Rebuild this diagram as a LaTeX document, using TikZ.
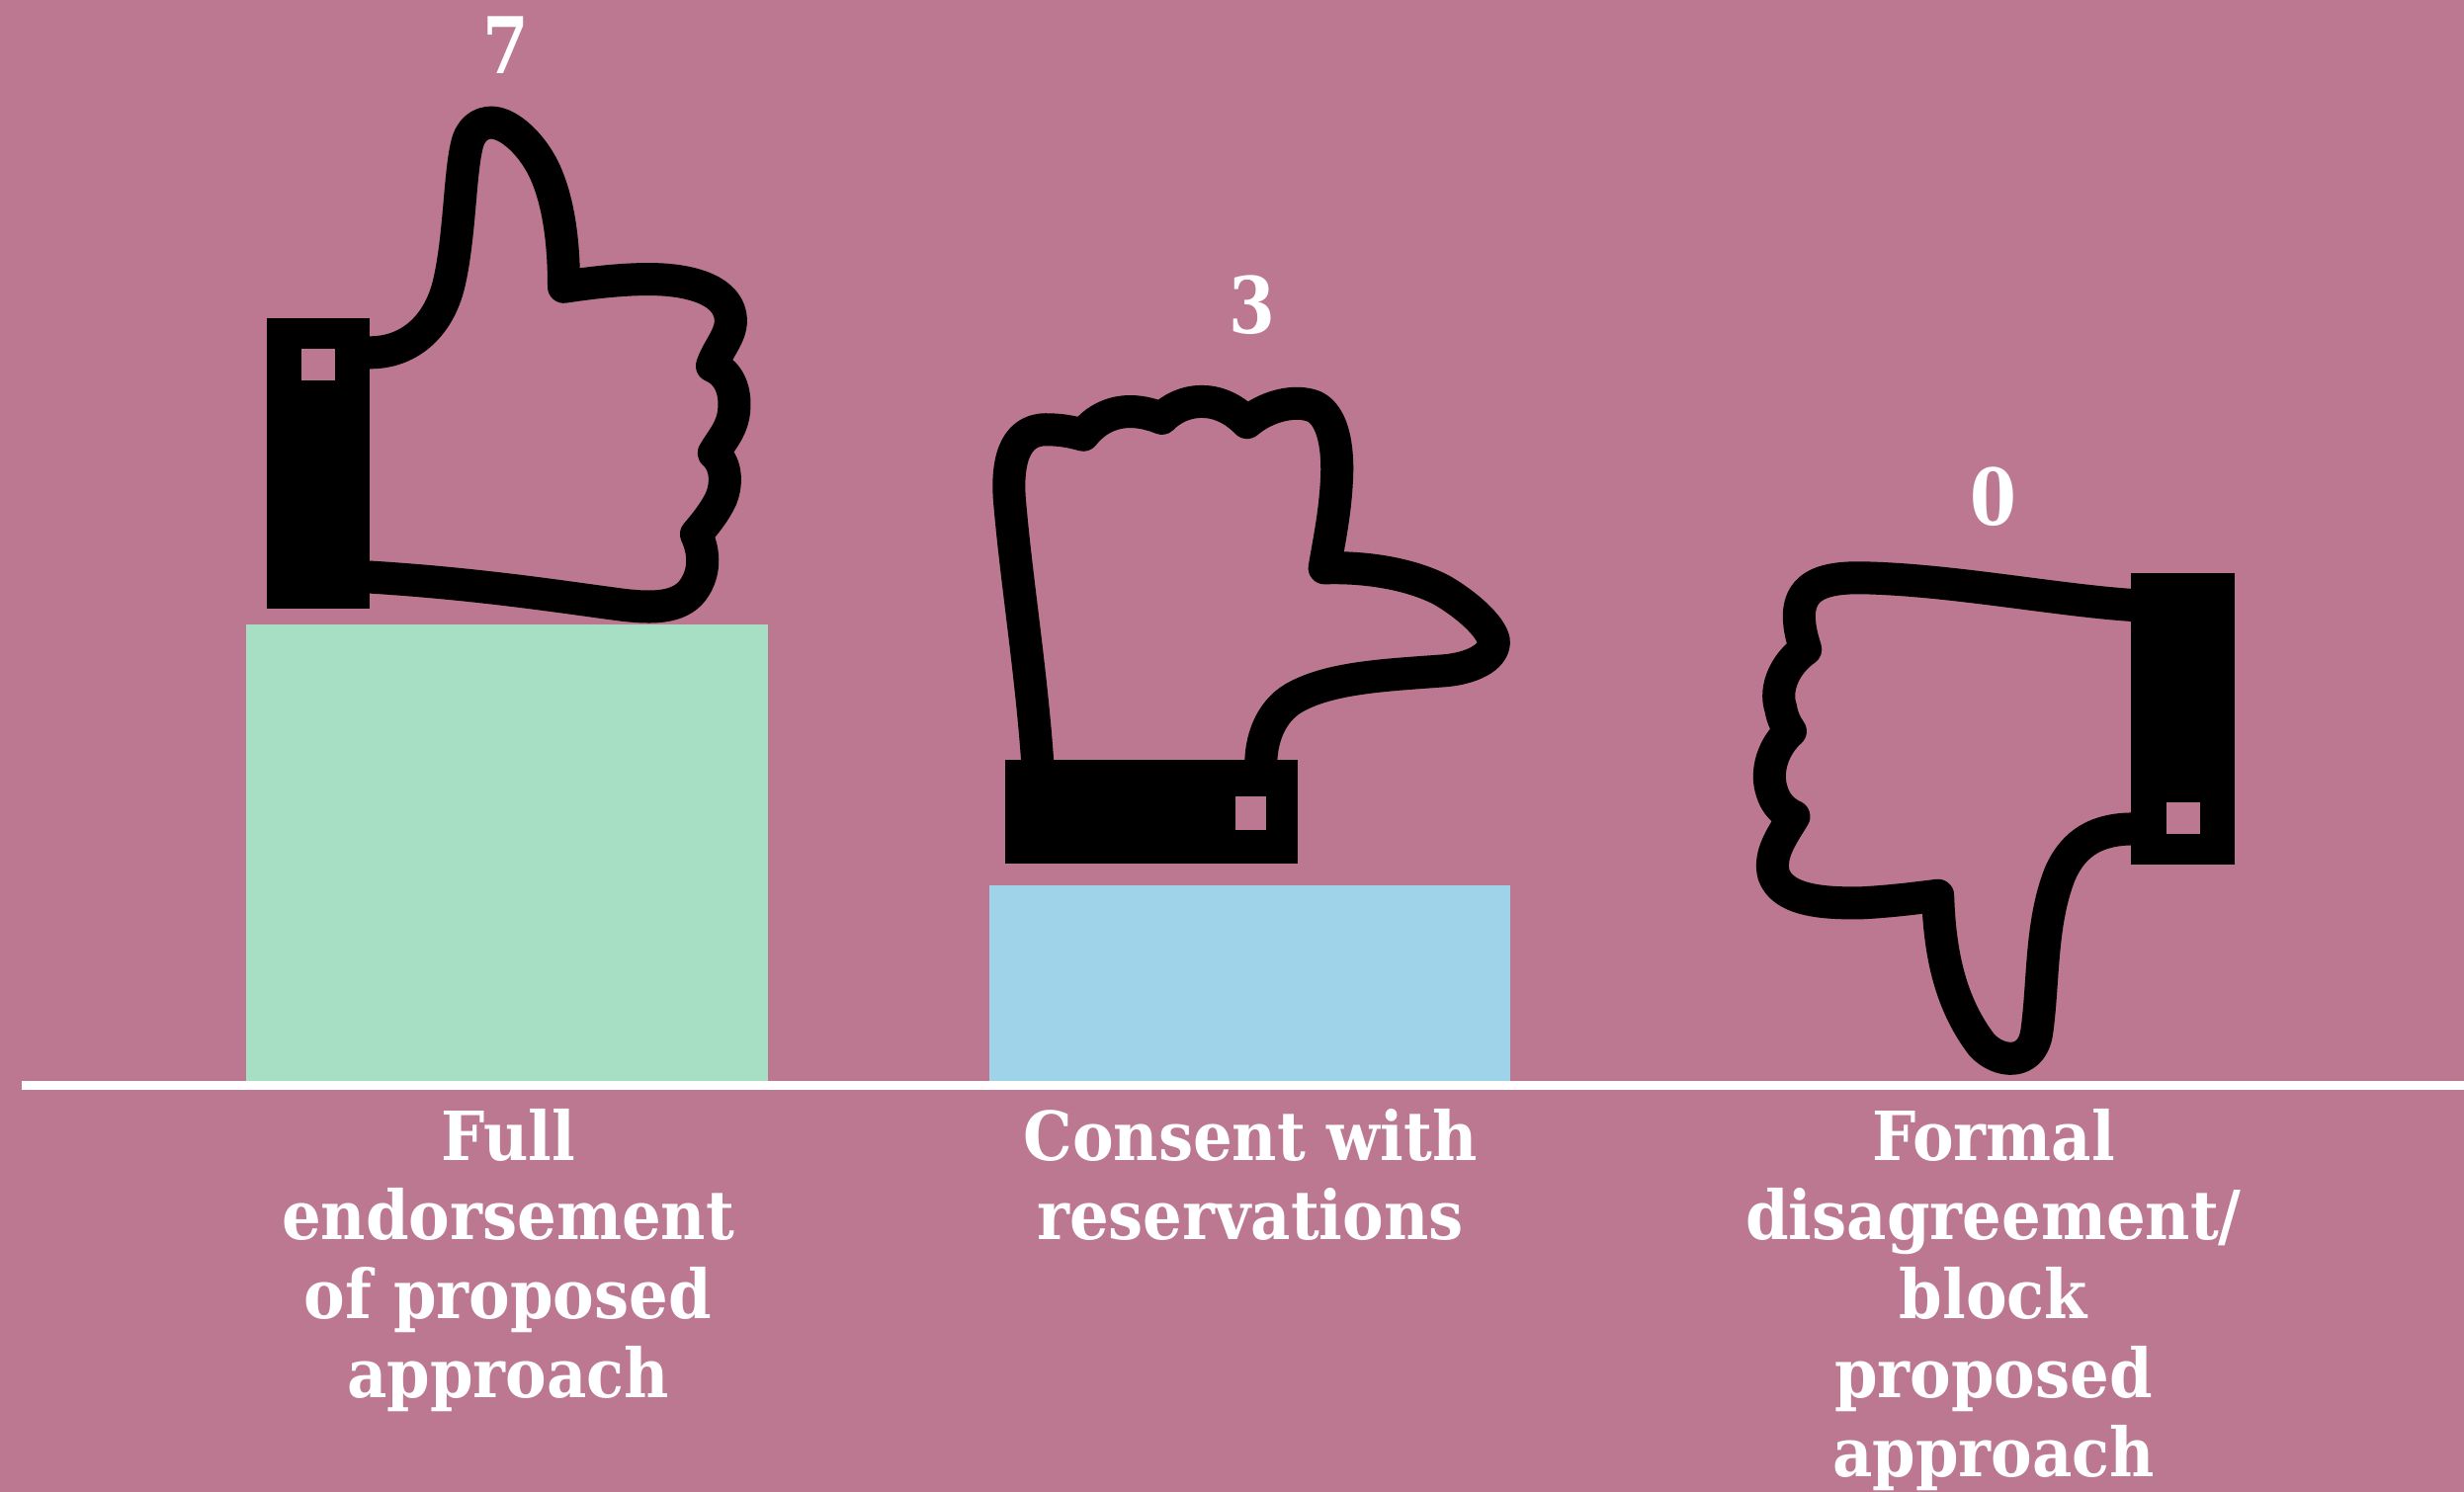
\documentclass[tikz,border=0pt]{standalone}
\usepackage{fontspec}
\setmainfont{DejaVu Serif}[BoldFont={DejaVu Serif Bold}]
\newfontfamily\labelfont{DejaVu Serif Bold}[FakeStretch=0.91]
\newfontfamily\numfont{DejaVu Serif Bold}[FakeStretch=0.85]
\definecolor{bgrose}{HTML}{BC7791}
\definecolor{barmint}{HTML}{A6DFC4}
\definecolor{barsky}{HTML}{9FD3E9}
\tikzset{
  handline/.style={draw=black,line width=0.33cm,line join=round,line cap=butt},
  cuffblock/.style={fill=black,draw=none},
  cufflink/.style={fill=bgrose,draw=none},
  barlabel/.style={text=white,align=center,anchor=north,inner sep=0pt,font=\labelfont\fontsize{19.5pt}{22.76pt}\selectfont},
  countlabel/.style={text=white,anchor=base,inner sep=0pt,font=\numfont\fontsize{22.5pt}{24pt}\selectfont}
}
\begin{document}
\begin{tikzpicture}[x=0.01cm,y=-0.01cm]
\useasboundingbox (0,0) rectangle (2493,1510);
\fill[bgrose] (0,0) rectangle (2493,1510);
% bars and baseline
\fill[barmint] (249,632) rectangle (777,1094);
\fill[barsky] (1001,896) rectangle (1528,1094);
\fill[white] (22,1094) rectangle (2493,1103);
% hand 1: thumbs up
\begin{scope}[xshift=2.40cm,x=0.01cm/2.8,y=-0.01cm/2.376]
\draw[handline] (372,848) .. controls (480,850) and (570,790) .. (600,680)
 .. controls (630,570) and (630,420) .. (650,350)
 .. controls (660,310) and (690,295) .. (720,295)
 .. controls (770,295) and (840,350) .. (875,420)
 .. controls (915,500) and (925,600) .. (925,690)
 .. controls (1040,675) and (1130,670) .. (1190,672)
 .. controls (1290,675) and (1395,700) .. (1398,770)
 .. controls (1398,810) and (1360,840) .. (1345,880)
 .. controls (1400,900) and (1415,950) .. (1405,1000)
 .. controls (1395,1040) and (1370,1060) .. (1350,1090)
 .. controls (1390,1120) and (1385,1170) .. (1370,1200)
 .. controls (1350,1235) and (1325,1260) .. (1300,1285)
 .. controls (1325,1330) and (1325,1380) .. (1290,1420)
 .. controls (1250,1465) and (1170,1462) .. (1100,1456)
 .. controls (950,1440) and (700,1405) .. (372,1388);
\fill[cuffblock] (85,765) rectangle (375,1465);
\fill[cufflink] (182,838) rectangle (277,915);
\end{scope}
% hand 2: sideways
\begin{scope}[xshift=9.80cm,yshift=-2.60cm,x=0.01cm/2.703,y=-0.01cm/2.376]
\draw[handline] (187,1215) .. controls (170,1000) and (130,780) .. (112,600)
 .. controls (100,500) and (120,415) .. (210,415)
 .. controls (250,415) and (280,420) .. (312,428)
 .. controls (350,385) and (420,350) .. (527,388)
 .. controls (580,340) and (680,325) .. (760,398)
 .. controls (810,360) and (890,340) .. (945,360)
 .. controls (1000,385) and (1010,470) .. (1005,540)
 .. controls (1000,620) and (985,680) .. (972,748)
 .. controls (1080,745) and (1200,760) .. (1290,800)
 .. controls (1360,835) and (1430,890) .. (1435,925)
 .. controls (1435,965) and (1370,990) .. (1300,995)
 .. controls (1150,1005) and (1000,1010) .. (900,1055)
 .. controls (830,1085) and (800,1150) .. (798,1215);
\fill[cuffblock] (98,1210) rectangle (898,1460);
\fill[cufflink] (727,1297) rectangle (813,1377);
\end{scope}
% hand 3: thumbs down
\begin{scope}[xshift=17.40cm,yshift=-4.60cm,x=0.01cm/2.8,y=-0.01cm/2.376]
\draw[handline] (1170,362) .. controls (950,350) and (650,300) .. (400,296)
 .. controls (300,295) and (225,310) .. (222,385)
 .. controls (222,420) and (232,445) .. (240,468)
 .. controls (185,500) and (150,560) .. (170,610)
 .. controls (175,635) and (185,650) .. (197,665)
 .. controls (150,700) and (125,760) .. (145,810)
 .. controls (155,840) and (180,860) .. (207,870)
 .. controls (175,915) and (135,960) .. (150,1010)
 .. controls (175,1070) and (280,1080) .. (400,1078)
 .. controls (470,1075) and (540,1068) .. (615,1060)
 .. controls (620,1200) and (650,1320) .. (740,1420)
 .. controls (790,1465) and (880,1470) .. (895,1390)
 .. controls (915,1270) and (905,1130) .. (960,1010)
 .. controls (1000,930) and (1070,900) .. (1170,900);
\fill[cuffblock] (1162,285) rectangle (1455,985);
\fill[cufflink] (1262,835) rectangle (1357,913);
\end{scope}
% counts
\node[countlabel] (countA) at (512,75) {7};
\node[countlabel] (countB) at (1267,338) {3};
\node[countlabel] (countC) at (2017,532) {0};
% labels
\node[barlabel] (labelA) at (514,1122) {Full\\endorsement\\of proposed\\approach};
\node[barlabel] (labelB) at (1265,1122) {Consent with\\reservations};
\node[barlabel] (labelC) at (2017,1122) {Formal\\disagreement/\\block\\proposed\\approach};
\end{tikzpicture}
\end{document}
